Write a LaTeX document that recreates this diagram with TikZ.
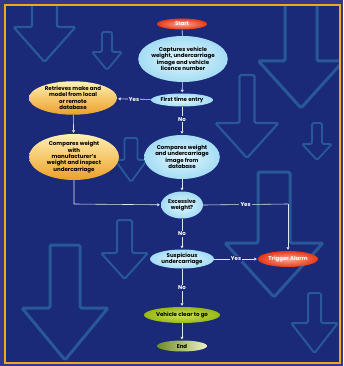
\documentclass[tikz,border=0pt]{standalone}
\usepackage{fontspec}
\setmainfont{Poppins}
\usetikzlibrary{shapes.geometric,arrows.meta,positioning}
\definecolor{bg}{RGB}{26,42,120}
\definecolor{rim}{RGB}{56,54,140}
\definecolor{gold}{RGB}{240,168,32}
\definecolor{ghost}{RGB}{40,88,152}
\definecolor{linec}{RGB}{225,230,240}
\definecolor{blueA}{RGB}{226,247,254}
\definecolor{blueB}{RGB}{164,220,244}
\definecolor{orangeA}{RGB}{255,240,180}
\definecolor{orangeB}{RGB}{236,160,40}
\definecolor{redA}{RGB}{250,170,150}
\definecolor{redB}{RGB}{230,56,22}
\definecolor{greenA}{RGB}{206,226,92}
\definecolor{greenB}{RGB}{150,184,20}
\definecolor{greenC}{RGB}{110,140,30}
\definecolor{greenD}{RGB}{236,242,200}
% outline of a down arrow in the background
\newcommand{\bgarrow}[7][2pt]{%
  \draw[ghost, line width=#1, rounded corners=1.5pt]
    ({#2-#4},#3) -- ({#2+#4},#3) -- ({#2+#4},#5) -- ({#2+#6},#5)
    -- (#2,#7) -- ({#2-#6},#5) -- ({#2-#4},#5) -- cycle;}

\begin{document}
\begin{tikzpicture}[x=1pt, y=-1pt,
  blob/.style={ellipse, inner sep=0pt, align=center, text=black,
    font=\bfseries\fontsize{5.5}{6.4}\selectfont},
  bluenode/.style={blob, shading=radial, inner color=blueA, outer color=blueB},
  goldnode/.style={blob, top color=orangeA, middle color=orangeA!40!orangeB, bottom color=orangeB},
  rednode/.style={blob, text=white, shading=radial, inner color=redA, outer color=redB},
  greennode/.style={blob, shading=radial, inner color=greenA, outer color=greenB},
  link/.style={draw=linec, line width=0.6pt},
  arr/.style={link, -{Triangle[width=3pt,length=2.5pt]}, shorten >=1pt},
  tag/.style={fill=bg, inner sep=1.2pt, text=white,
    font=\bfseries\fontsize{5.5}{6.4}\selectfont}]
\useasboundingbox (0,0) rectangle (343,366);
\fill[rim] (0,0) rectangle (343,366);
\fill[bg] (5,5) rectangle (340,363);
\begin{scope}
\clip (5,5) rectangle (340,363);
\bgarrow[2.2pt]{44.5}{0}{12.5}{27}{31}{62}
\bgarrow[1.8pt]{107}{32}{5}{52}{15}{70}
\bgarrow[1.8pt]{131}{138}{6.5}{160}{16}{182}
\bgarrow[2pt]{124.5}{220}{7.5}{253}{23.5}{279}
\bgarrow[3pt]{65}{245}{15}{308}{43}{360}
\bgarrow[3pt]{301}{0}{16}{61}{42.5}{108}
\bgarrow[2.2pt]{247}{75}{7.5}{123}{31.5}{158}
\bgarrow[1.8pt]{317}{123}{5}{144}{15}{160}
\bgarrow[3pt]{274}{172}{16}{243}{49}{297}
\bgarrow[2pt]{314.5}{293}{6.5}{323}{23.5}{353}
\end{scope}
\draw[gold, line width=2pt] (5,5) rectangle (340,363);

\node (start) [rednode, minimum width=50pt, minimum height=11pt] at (182,24) {Start};
\node (capture) [bluenode, minimum width=78pt, minimum height=46pt] at (183,59)
  {Captures vehicle\\weight, undercarriage\\image and vehicle\\licence number};
\node (first) [bluenode, minimum width=62pt, minimum height=13pt] at (182,100) {First time entry};
\node (fetch) [goldnode, minimum width=88pt, minimum height=30pt] at (73,98)
  {Retrieves make and\\model from local\\or remote\\database};
\node (cmpdb) [bluenode, minimum width=68pt, minimum height=44pt] at (182,157)
  {Compares weight\\and undercarriage\\image from\\database};
\node (cmpman) [goldnode, minimum width=90pt, minimum height=46pt] at (74,157)
  {Compares weight\\with\\manufacturer's\\weight and inspect\\undercarriage};
\node (excess) [bluenode, minimum width=42pt, minimum height=27pt] at (182,205) {Excessive\\weight?};
\node (susp) [bluenode, minimum width=64pt, minimum height=19pt] at (182,259) {Suspicious\\undercarriage};
\node (alarm) [rednode, minimum width=60pt, minimum height=16pt] at (288,259) {Trigger Alarm};
\node (clear) [greennode, minimum width=76pt, minimum height=16pt] at (182,315) {Vehicle clear to go};
\node (finish) [blob, left color=greenC, right color=greenD, minimum width=50pt, minimum height=11pt] at (182,346) {End};

\coordinate (bend1) at (74,204);
\coordinate (bend2) at (288,204);

\draw [link] (start) -- (capture);
\draw [arr] (capture) -- (first);
\draw [arr] (first) -- node[tag] {Yes} (fetch);
\draw [arr] (first) -- node[tag, pos=0.45] {No} (cmpdb);
\draw [arr] (fetch) -- (cmpman);
\draw [arr] (cmpman) -- (bend1) -- (excess);
\draw [arr] (cmpdb) -- (excess);
\draw [link] (excess.east) -- node[tag, pos=0.5] {Yes} (bend2);
\draw [arr] (bend2) -- (alarm);
\draw [arr] (excess) -- node[tag] {No} (susp);
\draw [arr] (susp) -- node[tag] {Yes} (alarm);
\draw [arr] (susp) -- node[tag] {No} (clear);
\draw [arr] (clear) -- (finish);
\end{tikzpicture}
\end{document}
